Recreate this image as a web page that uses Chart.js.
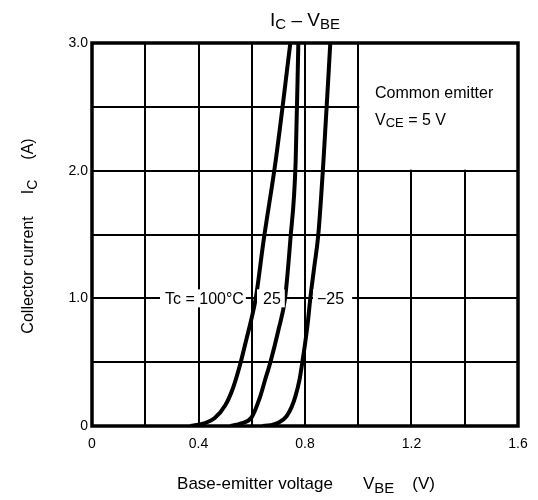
<!DOCTYPE html>
<html>
<head>
<meta charset="utf-8">
<script src="https://cdn.jsdelivr.net/npm/chart.js@4/dist/chart.umd.min.js"></script>
<style>
  body { margin: 0; background: #fff; }
  #wrap { width: 538px; height: 500px; }
</style>
</head>
<body>
<div id="wrap"><canvas id="chart"></canvas></div>
<script>
// Ic - Vbe curves
const vbe100 = [0.37, 0.42, 0.46, 0.50, 0.53, 0.556, 0.58, 0.60, 0.615, 0.645, 0.69, 0.745]
const ic100  = [0,    0.02, 0.06, 0.16, 0.30, 0.48,  0.68, 0.85, 1.0,   1.46,  2.08, 3.0]
const vbe25  = [0.52, 0.56, 0.60, 0.63, 0.65, 0.67, 0.70, 0.725, 0.745, 0.765, 0.775]
const ic25   = [0,    0.02, 0.07, 0.22, 0.36, 0.50, 0.75, 1.0,   1.46,  2.08,  3.0]
const vbeM25 = [0.64, 0.67,  0.70,  0.73,  0.75, 0.765, 0.78, 0.79, 0.80, 0.81, 0.82, 0.835, 0.85, 0.87, 0.895]
const icM25  = [0,    0.006, 0.025, 0.075, 0.15, 0.24,  0.37, 0.50, 0.64, 0.80, 1.0,  1.25,  1.5,  2.1,  3.0]

const xTickLabels = ['0', '0.4', '0.8', '1.2', '1.6']
const yTickLabels = ['0', '1.0', '2.0', '3.0']

const FONT = '"Liberation Sans", Arial, sans-serif'

const toPoints = (xs, ys) => xs.map((x, i) => ({ x: x, y: ys[i] }))

function curve(label, xs, ys) {
  return {
    label: label,
    data: toPoints(xs, ys),
    showLine: true,
    borderColor: '#000',
    borderWidth: 4,
    pointRadius: 0,
    cubicInterpolationMode: 'monotone'
  }
}

// text with subscripts: parts = [{t, size, dy, gap}]
function drawRich(ctx, parts, x, y, align) {
  let total = 0
  parts.forEach(p => {
    ctx.font = p.size + 'px ' + FONT
    p.w = ctx.measureText(p.t).width + (p.gap || 0)
    total += p.w
  })
  let cx = align === 'center' ? x - total / 2 : x
  ctx.textAlign = 'left'
  parts.forEach(p => {
    ctx.font = p.size + 'px ' + FONT
    ctx.fillText(p.t, cx + (p.gap || 0), y + (p.dy || 0))
    cx += p.w
  })
}

function labelWithBg(ctx, text, x, y, padL, padR) {
  ctx.font = '16px ' + FONT
  const w = ctx.measureText(text).width
  ctx.fillStyle = '#fff'
  ctx.fillRect(x - padL, y - 9, w + padL + padR, 18)
  ctx.fillStyle = '#000'
  ctx.textAlign = 'left'
  ctx.textBaseline = 'middle'
  ctx.fillText(text, x, y + 1)
}

const decorations = {
  id: 'decorations',
  beforeDatasetsDraw(chart) {
    const { ctx, scales: { x, y } } = chart
    // white panel holding the test conditions
    ctx.save()
    ctx.fillStyle = '#fff'
    ctx.fillRect(x.getPixelForValue(1.0) + 1, y.getPixelForValue(3.0), x.getPixelForValue(1.6) - x.getPixelForValue(1.0) - 1, y.getPixelForValue(2.0) - y.getPixelForValue(3.0) - 1)
    ctx.restore()
  },
  afterDatasetsDraw(chart) {
    const { ctx, chartArea: a, scales: { x, y } } = chart
    ctx.save()
    const y1 = y.getPixelForValue(1.0)
    labelWithBg(ctx, 'Tc = 100°C', 165, y1, 5, 2)
    labelWithBg(ctx, '25', 263, y1, 6, 4)
    labelWithBg(ctx, '\u221225', 317, y1, 4, 8)

    ctx.fillStyle = '#000'
    ctx.textBaseline = 'alphabetic'
    ctx.font = '16px ' + FONT
    ctx.textAlign = 'left'
    ctx.fillText('Common emitter', 375, 98)
    drawRich(ctx, [
      { t: 'V', size: 16 },
      { t: 'CE', size: 13, dy: 2 },
      { t: ' = 5 V', size: 16 }
    ], 375, 125, 'left')

    // frame
    ctx.strokeStyle = '#000'
    ctx.lineWidth = 3.5
    ctx.strokeRect(a.left, a.top, a.right - a.left, a.bottom - a.top)
    ctx.restore()
  },
  afterDraw(chart) {
    const { ctx } = chart
    ctx.save()
    ctx.fillStyle = '#000'
    ctx.textBaseline = 'alphabetic'
    drawRich(ctx, [
      { t: 'I', size: 19 },
      { t: 'C', size: 15, dy: 3 },
      { t: ' \u2013 V', size: 19 },
      { t: 'BE', size: 15, dy: 3 }
    ], 305, 26, 'center')

    drawRich(ctx, [
      { t: 'Base-emitter voltage', size: 17 },
      { t: 'V', size: 17, gap: 30 },
      { t: 'BE', size: 15, dy: 4 },
      { t: '(V)', size: 17, gap: 18 }
    ], 306, 489, 'center')

    ctx.translate(33, 236)
    ctx.rotate(-Math.PI / 2)
    drawRich(ctx, [
      { t: 'Collector current', size: 16 },
      { t: 'I', size: 16, gap: 22 },
      { t: 'C', size: 14, dy: 4 },
      { t: '(A)', size: 16, gap: 20 }
    ], 0, 0, 'center')
    ctx.restore()
  }
}

new Chart(document.getElementById('chart'), {
  type: 'scatter',
  data: {
    datasets: [
      curve('Tc = 100°C', vbe100, ic100),
      curve('25', vbe25, ic25),
      curve('-25', vbeM25, icM25)
    ]
  },
  options: {
    responsive: true,
    maintainAspectRatio: false,
    devicePixelRatio: 1,
    animation: false,
    layout: { padding: { top: 43, right: 20, bottom: 0, left: 0 } },
    plugins: {
      legend: { display: false },
      tooltip: { enabled: false }
    },
    scales: {
      x: {
        type: 'linear',
        min: 0,
        max: 1.6,
        ticks: {
          stepSize: 0.2,
          color: '#000',
          font: { family: FONT, size: 14 },
          padding: 10,
          maxRotation: 0,
          autoSkip: false,
          callback: v => {
            const k = Math.round(v * 10)
            return k % 4 === 0 ? xTickLabels[k / 4] : ''
          }
        },
        grid: { color: '#000', lineWidth: 2, drawTicks: false },
        border: { display: false },
        afterFit: s => { s.height = 74 }
      },
      y: {
        type: 'linear',
        min: 0,
        max: 3,
        ticks: {
          stepSize: 0.5,
          color: '#000',
          font: { family: FONT, size: 14 },
          padding: 4,
          autoSkip: false,
          callback: v => {
            const k = Math.round(v * 2)
            return k % 2 === 0 ? yTickLabels[k / 2] : ''
          }
        },
        grid: { color: '#000', lineWidth: 2, drawTicks: false },
        border: { display: false },
        afterFit: s => { s.width = 92 }
      }
    }
  },
  plugins: [decorations]
})
</script>
</body>
</html>
